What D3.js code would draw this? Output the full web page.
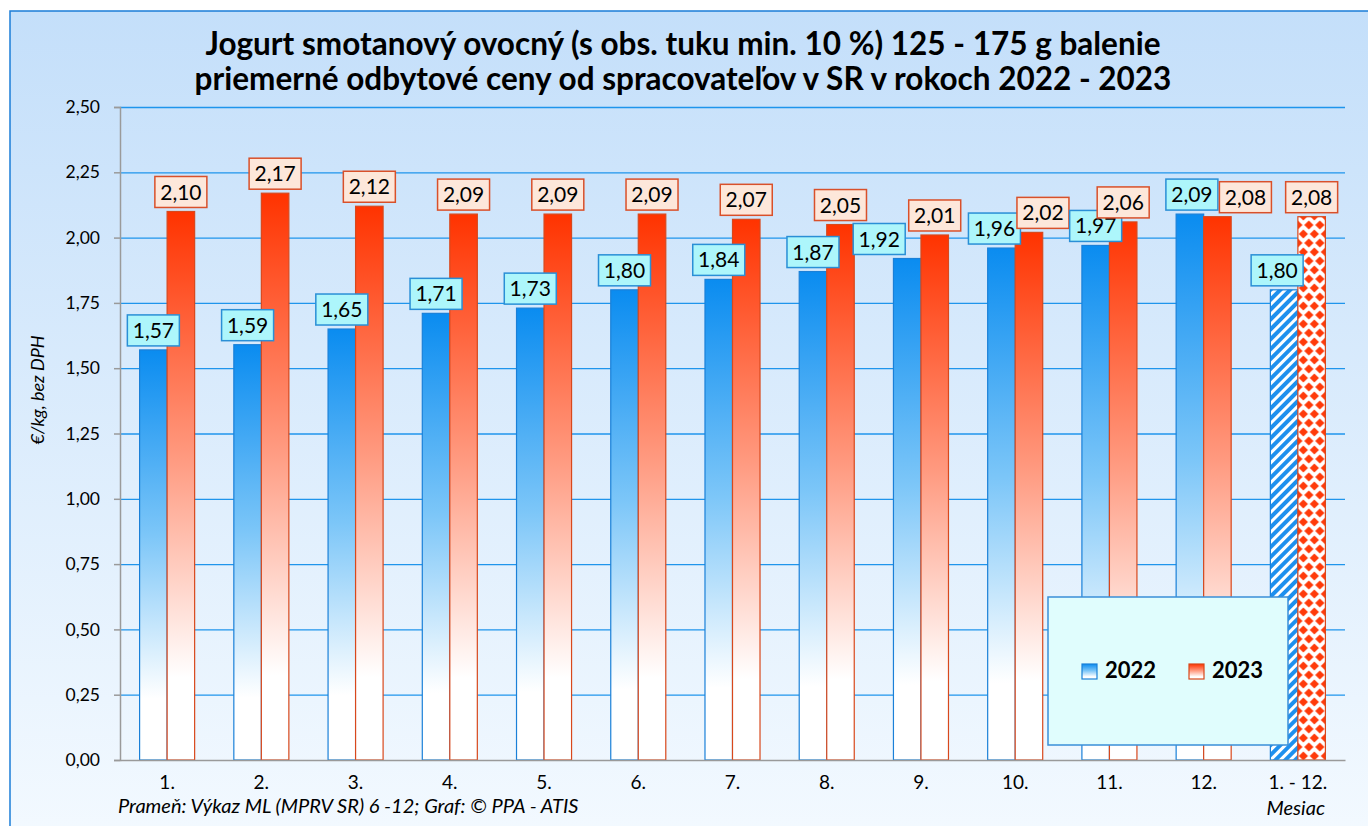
<!DOCTYPE html>
<html>
<head>
<meta charset="utf-8">
<script src="https://cdn.jsdelivr.net/npm/d3@7"></script>
<style>
  body { margin: 0; background: #fff; }
  svg { display: block; font-family: Lato, "Open Sans", sans-serif; }
</style>
</head>
<body>
<script>
// chart data
var months = ["1.", "2.", "3.", "4.", "5.", "6.", "7.", "8.", "9.", "10.", "11.", "12.", "1. - 12."];
var prices2022 = [1.57, 1.59, 1.65, 1.71, 1.73, 1.80, 1.84, 1.87, 1.92, 1.96, 1.97, 2.09, 1.80];
var prices2023 = [2.10, 2.17, 2.12, 2.09, 2.09, 2.09, 2.07, 2.05, 2.01, 2.02, 2.06, 2.08, 2.08];
var years = ["2022", "2023"];
var yTicks = [0, 0.25, 0.5, 0.75, 1.0, 1.25, 1.5, 1.75, 2.0, 2.25, 2.5];

var titleLines = ["Jogurt smotanový ovocný (s obs. tuku min. 10 %) 125 - 175 g balenie",
                  "priemerné odbytové ceny od spracovateľov v SR v rokoch 2022 - 2023"];

var W = 1368, H = 826;
var plot = {left: 120, right: 1345, top: 107, bottom: 760};

var fmt = function(v) { return v.toFixed(2).replace(".", ","); };

var svg = d3.select("body").append("svg")
    .attr("width", W)
    .attr("height", H);

var defs = svg.append("defs");

// background gradient
var bg = defs.append("linearGradient").attr("id", "bg")
    .attr("x1", 0).attr("y1", 0).attr("x2", 0).attr("y2", 1);
bg.append("stop").attr("offset", 0).attr("stop-color", "#c4dffa");
bg.append("stop").attr("offset", 1).attr("stop-color", "#f4faff");

// bar gradients
function barGradient(id, color, mid) {
  var g = defs.append("linearGradient").attr("id", id)
      .attr("x1", 0).attr("y1", 0).attr("x2", 0).attr("y2", 1);
  g.append("stop").attr("offset", 0).attr("stop-color", color);
  g.append("stop").attr("offset", 0.45).attr("stop-color", mid);
  g.append("stop").attr("offset", 0.85).attr("stop-color", "#ffffff");
  g.append("stop").attr("offset", 1).attr("stop-color", "#ffffff");
}
barGradient("grad2022", "#0a8cf0", "#7cc6f8");
barGradient("grad2023", "#ff3300", "#ff9a80");

// hatched pattern for the yearly average 2022
var hatch = defs.append("pattern").attr("id", "hatch2022")
    .attr("patternUnits", "userSpaceOnUse")
    .attr("width", 7).attr("height", 7)
    .attr("patternTransform", "rotate(45)");
hatch.append("rect").attr("width", 7).attr("height", 7).attr("fill", "#ffffff");
hatch.append("rect").attr("width", 4).attr("height", 7).attr("fill", "#1e90ee");

// diamond pattern for the yearly average 2023
var diam = defs.append("pattern").attr("id", "diamond2023")
    .attr("patternUnits", "userSpaceOnUse")
    .attr("width", 11).attr("height", 18);
diam.append("rect").attr("width", 11).attr("height", 18).attr("fill", "#ffffff");
var dpath = "";
[[5.5, 9], [0, 0], [11, 0], [0, 18], [11, 18]].forEach(function(c) {
  var r = 4.6;
  dpath += "M" + c[0] + "," + (c[1] - r) + " L" + (c[0] + r) + "," + c[1] +
           " L" + c[0] + "," + (c[1] + r) + " L" + (c[0] - r) + "," + c[1] + " Z ";
});
diam.append("path").attr("d", dpath).attr("fill", "#ff3a0a");

// outer frame
svg.append("rect")
    .attr("x", 10).attr("y", 11)
    .attr("width", W + 20).attr("height", H + 20)
    .attr("fill", "url(#bg)")
    .attr("stroke", "#1b7dd8")
    .attr("stroke-width", 1.5);

// title
svg.append("g").selectAll("text")
    .data(titleLines)
    .enter().append("text")
    .attr("x", 683)
    .attr("y", function(d, i) { return 55 + i * 35; })
    .attr("text-anchor", "middle")
    .style("font-size", "31.5px")
    .style("font-weight", "bold")
    .style("fill", "#000")
    .text(function(d) { return d; });

// scales
var x = d3.scaleBand()
    .domain(months)
    .range([plot.left, plot.right])
    .paddingInner(0.416)
    .paddingOuter(0.208);

var xSeries = d3.scaleBand()
    .domain(years)
    .range([0, x.bandwidth()]);

var y = d3.scaleLinear()
    .domain([0, 2.5])
    .range([plot.bottom, plot.top]);

// gridlines
var grid = svg.append("g")
    .attr("transform", "translate(" + plot.left + ",0)")
    .call(d3.axisLeft(y).tickValues(yTicks.slice(1)).tickSize(-(plot.right - plot.left)).tickFormat(""));
grid.select(".domain").remove();
grid.selectAll("line").attr("stroke", "#1f95ec").attr("stroke-width", 1.3);

// y axis
var yAxis = svg.append("g")
    .attr("transform", "translate(" + plot.left + ",0)")
    .call(d3.axisLeft(y).tickValues(yTicks).tickSize(6).tickPadding(14).tickFormat(fmt));
yAxis.select(".domain").attr("stroke", "#9a9a9a").attr("stroke-width", 1.5);
yAxis.selectAll("line").attr("stroke", "#9a9a9a").attr("stroke-width", 1.5);
yAxis.selectAll("text").style("font-size", "17.5px").style("font-family", "Lato, sans-serif").attr("fill", "#000");

// y axis title
svg.append("text")
    .attr("transform", "translate(44,390) rotate(-90)")
    .attr("text-anchor", "middle")
    .style("font-size", "18px")
    .style("font-style", "italic")
    .text("€/kg, bez DPH");

// bars
var rows = months.map(function(m, i) {
  return {month: m, i: i, values: [prices2022[i], prices2023[i]]};
});
var last = months.length - 1;

var barFill = {
  "2022": function(i) { return i === last ? "url(#hatch2022)" : "url(#grad2022)"; },
  "2023": function(i) { return i === last ? "url(#diamond2023)" : "url(#grad2023)"; }
};
var barStroke = {"2022": "#1a80d8", "2023": "#d8481c"};

var groups = svg.append("g").selectAll("g")
    .data(rows)
    .enter().append("g")
    .attr("transform", function(d) { return "translate(" + x(d.month) + ",0)"; });

groups.selectAll("rect")
    .data(function(d) { return years.map(function(yr, k) { return {year: yr, value: d.values[k], i: d.i}; }); })
    .enter().append("rect")
    .attr("x", function(d) { return xSeries(d.year); })
    .attr("y", function(d) { return y(d.value); })
    .attr("width", xSeries.bandwidth())
    .attr("height", function(d) { return y(0) - y(d.value); })
    .attr("fill", function(d) { return barFill[d.year](d.i); })
    .attr("stroke", function(d) { return barStroke[d.year]; })
    .attr("stroke-width", 1.2);

// x axis
var xAxis = svg.append("g")
    .attr("transform", "translate(0," + plot.bottom + ")")
    .call(d3.axisBottom(x).tickSize(0).tickPadding(16));
xAxis.select(".domain").attr("stroke", "#9a9a9a").attr("stroke-width", 1.5);
xAxis.selectAll("text").style("font-size", "19px").style("font-family", "Lato, sans-serif").attr("fill", "#000");

// value labels (some were moved by hand in the original so they do not overlap)
var labelMove = {"2022": {8: -28, 9: -7, 11: 2, 12: -7}, "2023": {9: 14, 11: 28}};
var labelStyle = {
  "2022": {fill: "#adf6fb", stroke: "#2a8fd6"},
  "2023": {fill: "#fde7da", stroke: "#d9502a"}
};
var boxW = 52, boxH = 31;

var labels = groups.selectAll("g.lbl")
    .data(function(d) { return years.map(function(yr, k) { return {year: yr, value: d.values[k], i: d.i}; }); })
    .enter().append("g")
    .attr("class", "lbl")
    .attr("transform", function(d) {
      var cx = xSeries(d.year) + xSeries.bandwidth() / 2 + (labelMove[d.year][d.i] || 0);
      return "translate(" + cx + "," + (y(d.value) - 4 - boxH) + ")";
    });

labels.append("rect")
    .attr("x", -boxW / 2)
    .attr("width", boxW)
    .attr("height", boxH)
    .attr("fill", function(d) { return labelStyle[d.year].fill; })
    .attr("stroke", function(d) { return labelStyle[d.year].stroke; })
    .attr("stroke-width", 1.5);

labels.append("text")
    .attr("y", boxH / 2)
    .attr("dy", "0.36em")
    .attr("text-anchor", "middle")
    .style("font-size", "21px")
    .text(function(d) { return fmt(d.value); });

// legend
var legend = svg.append("g").attr("transform", "translate(1048,597)");
legend.append("rect")
    .attr("width", 240).attr("height", 148)
    .attr("fill", "#e0fdfd")
    .attr("stroke", "#3a8fd8")
    .attr("stroke-width", 1.5);

var legendItems = legend.selectAll("g.item")
    .data(years)
    .enter().append("g")
    .attr("class", "item")
    .attr("transform", function(d, i) { return "translate(" + (34 + i * 107) + ",67)"; });

legendItems.append("rect")
    .attr("width", 15).attr("height", 15)
    .attr("fill", function(d) { return "url(#grad" + d + ")"; })
    .attr("stroke", function(d) { return barStroke[d]; })
    .attr("stroke-width", 1.2);

legendItems.append("text")
    .attr("x", 23).attr("y", 14)
    .style("font-size", "22px")
    .style("font-weight", "bold")
    .text(function(d) { return d; });

// footer
svg.append("text")
    .attr("x", 118).attr("y", 813)
    .style("font-size", "20px")
    .style("font-style", "italic")
    .text("Prameň: Výkaz ML (MPRV SR) 6 -12; Graf: © PPA - ATIS");

svg.append("text")
    .attr("x", 1325).attr("y", 815)
    .attr("text-anchor", "end")
    .style("font-size", "20px")
    .style("font-style", "italic")
    .text("Mesiac");
</script>
</body>
</html>
